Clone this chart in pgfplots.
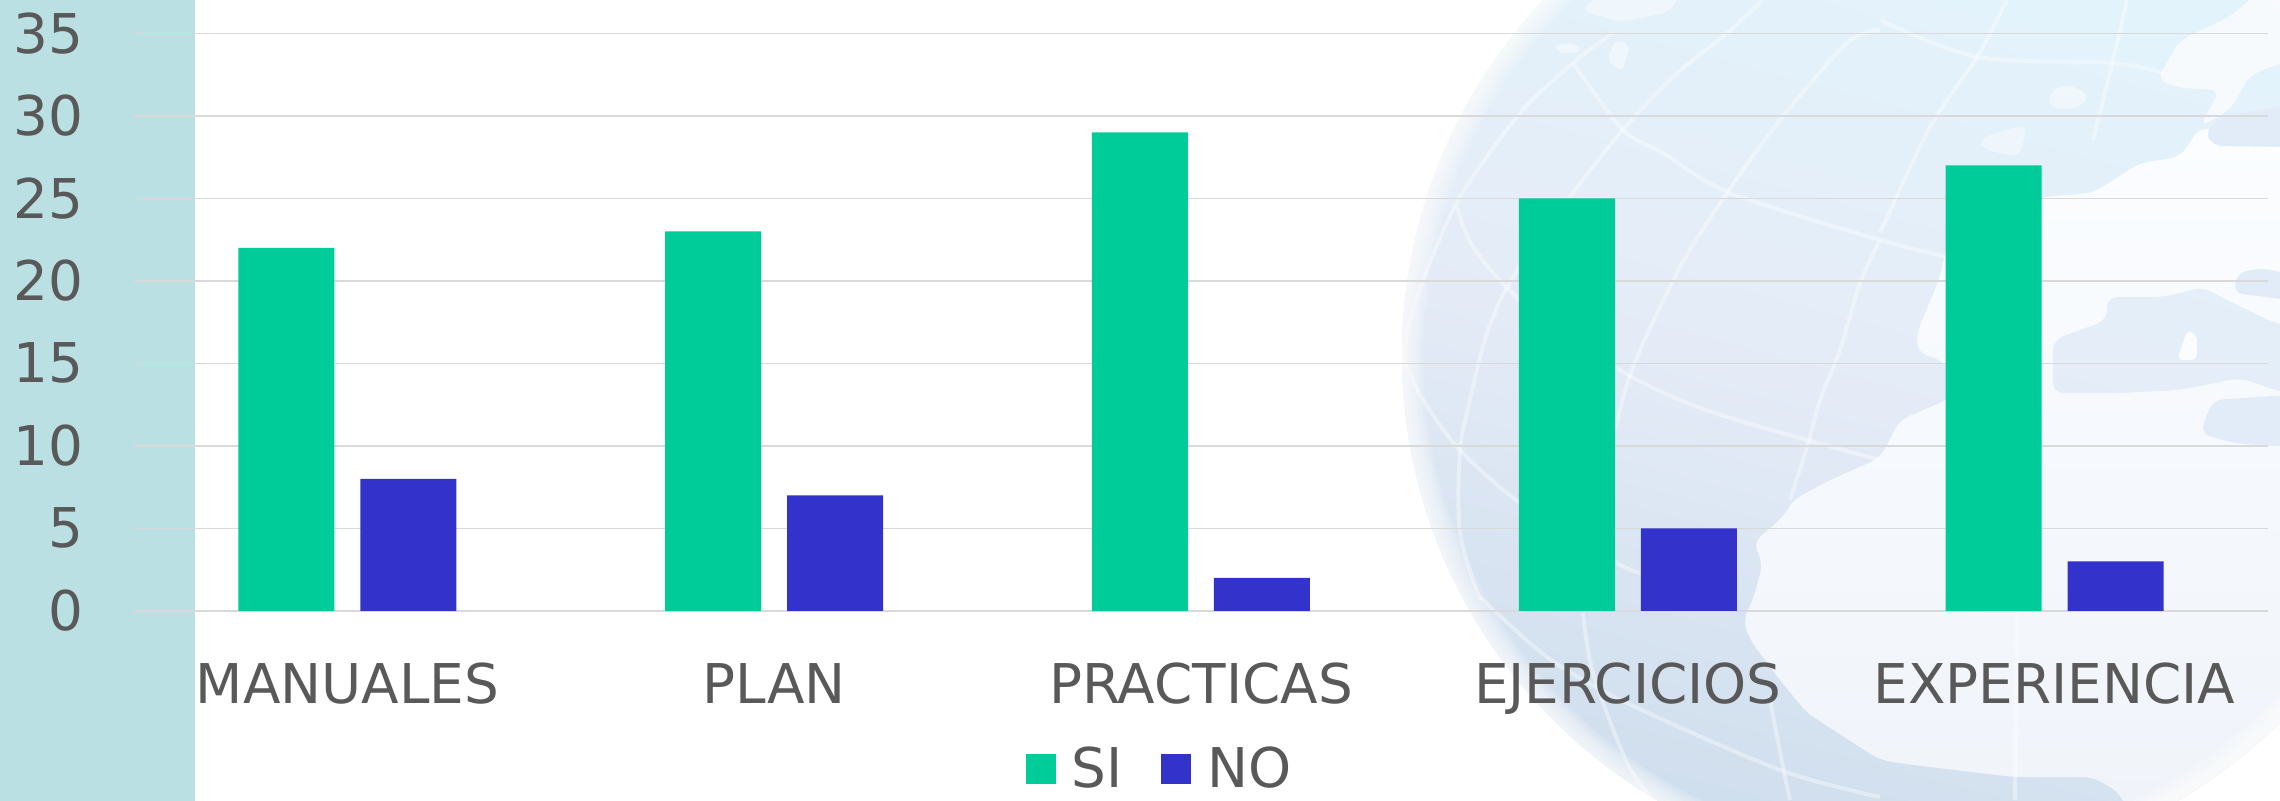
\documentclass[border=0pt]{standalone}
\usepackage{fontspec}
\setmainfont{DejaVu Sans}
\usepackage{pgfplots}
\usepackage{pgfplotstable}
\pgfplotsset{compat=1.18}

\definecolor{si}{HTML}{00CC99}
\definecolor{no}{HTML}{3333CC}
\definecolor{band}{HTML}{BBE0E3}
\definecolor{txt}{HTML}{595959}
\definecolor{gridc}{HTML}{D9D9D9}
\definecolor{land}{HTML}{FAFCFE}
\definecolor{landtop}{HTML}{FBFDFF}
\definecolor{landbot}{HTML}{F0F4FA}
\definecolor{oceantop}{HTML}{E3F3FB}
\definecolor{oceanmid}{HTML}{E4EBF7}
\definecolor{oceanbot}{HTML}{CFDEED}
\definecolor{sea}{HTML}{E2ECF8}

\pgfplotstableread{
x si no
0 22 8
1 23 7
2 29 2
3 25 5
4 27 3
}\datos

\begin{document}
\begin{tikzpicture}
% background, in pixels of the reference
\begin{scope}[x=0.5pt,y=-0.5pt]
  \path[use as bounding box] (0,0) rectangle (2280,801);
  \fill[white] (0,0) rectangle (2280,801);
  \begin{scope}
    \clip (0,0) rectangle (2280,801);
    \begin{scope}
      \clip (1918,355) circle (516);
      % ocean
      \shade[top color=oceantop,bottom color=oceanbot,middle color=oceanmid,shading angle=-15]
        (1380,-30) rectangle (2300,830);
      % land
      \shade[top color=landtop,bottom color=landbot,rounded corners=5pt]
        (1880,458) -- (1900,420) -- (1947,400) -- (1960,385) -- (1945,362) -- (1917,352) -- (1917,333)
        -- (1940,277) -- (1950,230) -- (2043,197) -- (2093,193) -- (2140,163) -- (2180,157) -- (2200,127)
        -- (2290,147) -- (2290,327) -- (2268,320) -- (2227,300) -- (2203,287) -- (2163,297) -- (2107,297)
        -- (2107,320) -- (2053,340) -- (2053,393) -- (2120,393) -- (2180,390) -- (2240,378) -- (2290,395)
        -- (2290,810) -- (2127,810) -- (2120,793) -- (2093,777) -- (2013,777) -- (1913,765) -- (1880,760)
        -- (1807,713) -- (1780,680) -- (1750,640) -- (1743,620) -- (1753,600) -- (1763,563) -- (1753,543)
        -- (1783,517) -- (1793,500) -- (1830,480) -- cycle;
      \fill[land,opacity=.85,rounded corners=5pt] (2157,80) -- (2180,40) -- (2230,17) -- (2255,-5) -- (2290,-5) -- (2290,60) -- (2250,75)
        -- (2230,110) -- (2200,127) -- (2220,90) -- (2180,88) -- cycle;
      \fill[land,rounded corners=3pt] (2177,360) -- (2187,330) -- (2197,335) -- (2197,360) -- cycle;
      \fill[land,opacity=.6,rounded corners=5pt] (2047,95) -- (2065,83) -- (2090,95) -- (2080,108) -- (2052,110) -- cycle;
      \fill[land,opacity=.5,rounded corners=5pt] (1977,140) -- (2005,130) -- (2027,125) -- (2020,157) -- (1985,150) -- cycle;
      \fill[land,opacity=.6,rounded corners=5pt] (1580,10) -- (1600,-5) -- (1680,-5) -- (1670,12) -- (1620,22) -- cycle;
      \fill[land,opacity=.6,rounded corners=3pt] (1553,45) -- (1575,43) -- (1582,52) -- (1560,54) -- cycle;
      \fill[land,opacity=.6,rounded corners=3pt] (1607,60) -- (1615,40) -- (1630,45) -- (1622,72) -- cycle;
      % blue patches over the land
      \fill[sea,rounded corners=5pt] (2205,130) -- (2225,116) -- (2290,105) -- (2290,147) -- (2212,146) -- cycle;
      \fill[sea,rounded corners=5pt] (2233,293) -- (2238,272) -- (2265,268) -- (2290,275) -- (2290,300) -- cycle;
      \fill[sea,rounded corners=5pt] (2200,433) -- (2213,400) -- (2290,395) -- (2290,447) -- (2233,443) -- cycle;
      % meridians and parallels
      \begin{scope}[draw=white,draw opacity=.38,line width=2pt]
        \draw plot[smooth] coordinates {(1763,0) (1727,33) (1673,77) (1620,133) (1570,197) (1513,277) (1487,333) (1470,400) (1460,450) (1460,533) (1480,600)};
        \draw plot[smooth] coordinates {(1613,33) (1573,63) (1520,113) (1460,197) (1423,280) (1407,333) (1402,370)};
        \draw plot[smooth] coordinates {(1573,63) (1623,130) (1663,153) (1730,193) (1880,240) (1947,257)};
        \draw plot[smooth] coordinates {(1457,207) (1473,247) (1520,300) (1615,367) (1680,400) (1747,423) (1880,460)};
        \draw plot[smooth] coordinates {(1880,30) (1847,43) (1780,120) (1727,193) (1680,267) (1633,367) (1615,430)};
        \draw plot[smooth] coordinates {(1880,240) (1860,283) (1840,350) (1820,400) (1807,447) (1790,500)};
        \draw plot[smooth] coordinates {(2007,0) (1977,57) (1930,127) (1880,233)};
        \draw plot[smooth] coordinates {(1880,20) (1977,57) (2113,63) (2163,73)};
        \draw plot[smooth] coordinates {(2127,0) (2113,60) (2093,140)};
        \draw plot[smooth] coordinates {(1404,360) (1423,400) (1460,450) (1520,503) (1617,563) (1640,573)};
        \draw plot[smooth] coordinates {(1480,597) (1547,657) (1627,703) (1780,770) (1880,797)};
        \draw plot[smooth] coordinates {(1583,613) (1593,673) (1627,763) (1653,800)};
        \draw plot[smooth] coordinates {(1770,700) (1783,767) (1790,800)};
        \draw plot[smooth] coordinates {(2017,613) (2015,800)};
      \end{scope}
      % soft rim
      \foreach \w in {3,6,9,12,15,18,21}
        \draw[white,opacity=.16,line width=\w pt] (1918,355) circle (516);
    \end{scope}
    \fill[band] (0,0) rectangle (195,801);
  \end{scope}
\end{scope}

\begin{axis}[
    at={(67pt,-305.4pt)},
    anchor=south west,
    scale only axis,
    width=1067pt,
    height=288.75pt,
    ybar=13pt,
    bar width=48pt,
    xmin=-0.5,
    xmax=4.5,
    ymin=0,
    ymax=35,
    ytick={0,5,...,35},
    xtick=data,
    xticklabels={MANUALES,PLAN,PRACTICAS,EJERCICIOS,EXPERIENCIA},
    ymajorgrids,
    grid style={gridc,line width=0.75pt},
    axis line style={draw=none},
    tick style={draw=none},
    major tick length=0pt,
    /pgf/number format/assume math mode=true,
    tick label style={font=\fontsize{27.4}{30}\selectfont,text=txt},
    yticklabel style={anchor=east,xshift=-22pt},
    xticklabel style={anchor=base,yshift=-46.2pt},
    legend columns=2,
    legend style={at={(0.4811,-0.274)},anchor=center,draw=none,fill=none,
      font=\fontsize{27.4}{30}\selectfont,text=txt,
      /tikz/every even column/.append style={column sep=17.4pt}},
    legend image code/.code={\fill[#1] (0pt,-7.5pt) rectangle (15pt,7.5pt);},
  ]
\addplot[fill=si,draw=none] table[x=x,y=si] {\datos};
\addlegendentry{\hspace{6pt}SI}
\addplot[fill=no,draw=none] table[x=x,y=no] {\datos};
\addlegendentry{\hspace{6pt}NO}
\end{axis}
\end{tikzpicture}
\end{document}
